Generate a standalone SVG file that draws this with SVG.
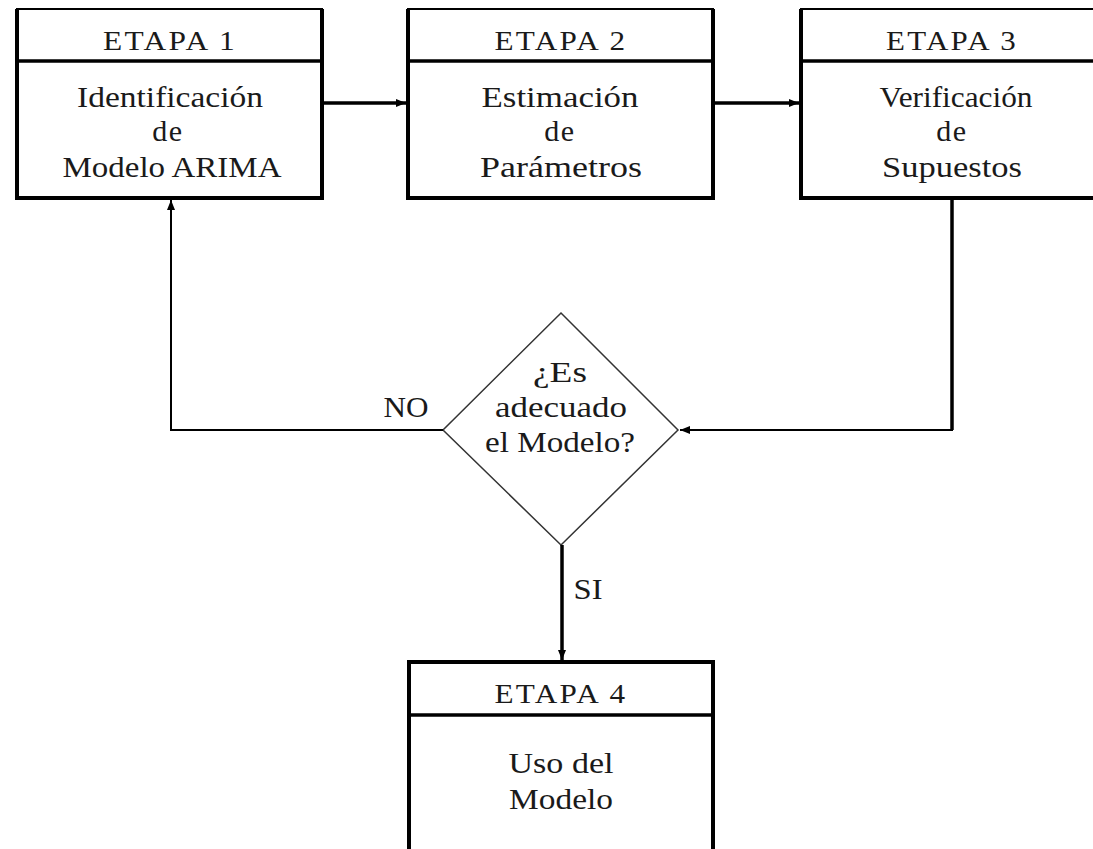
<svg xmlns="http://www.w3.org/2000/svg" width="1093" height="849" viewBox="0 0 1093 849">
<style>
  .t { font-family: "Liberation Serif", "DejaVu Serif", serif; font-size: 29px; fill: #1a1a1a; text-anchor: middle; }
  .d { font-family: "Liberation Serif", "DejaVu Serif", serif; font-size: 30px; fill: #1a1a1a; text-anchor: middle; letter-spacing: 1.5px; }
  .h { font-family: "Liberation Serif", "DejaVu Serif", serif; font-size: 27px; fill: #1a1a1a; text-anchor: middle; letter-spacing: 2px; }
  .frame { fill: none; stroke: #000; stroke-width: 4; }
  .top { stroke: #000; stroke-width: 2.2; }
  .div { stroke: #000; stroke-width: 3.5; }
  .thick { fill: none; stroke: #000; stroke-width: 3.5; }
  .thin { fill: none; stroke: #000; stroke-width: 2; }
</style>
<defs>
  <marker id="ah" viewBox="0 0 10 8" refX="10" refY="4" markerWidth="10" markerHeight="8" markerUnits="userSpaceOnUse" orient="auto">
    <path d="M0,0 L10,4 L0,8 Z" fill="#000"/>
  </marker>
</defs>
<rect width="1093" height="849" fill="#fff"/>

<g id="etapa1">
  <path class="frame" d="M17,9 V198 H322 V9"/>
  <line class="top" x1="16" y1="9" x2="323" y2="9"/>
  <line class="div" x1="16" y1="61" x2="323" y2="61"/>
  <text class="h" x="170" y="50" textLength="134" lengthAdjust="spacingAndGlyphs">ETAPA 1</text>
  <text class="t" x="170" y="107" textLength="186" lengthAdjust="spacingAndGlyphs">Identificación</text>
  <text class="d" x="168" y="141">de</text>
  <text class="t" x="172" y="177" textLength="219" lengthAdjust="spacingAndGlyphs">Modelo ARIMA</text>
</g>

<g id="etapa2">
  <path class="frame" d="M408,9 V198 H713 V9"/>
  <line class="top" x1="407" y1="9" x2="714" y2="9"/>
  <line class="div" x1="407" y1="61" x2="714" y2="61"/>
  <text class="h" x="561" y="50" textLength="133" lengthAdjust="spacingAndGlyphs">ETAPA 2</text>
  <text class="t" x="560" y="107" textLength="157" lengthAdjust="spacingAndGlyphs">Estimación</text>
  <text class="d" x="560" y="141">de</text>
  <text class="t" x="561" y="177" textLength="162" lengthAdjust="spacingAndGlyphs">Parámetros</text>
</g>

<g id="etapa3">
  <path class="frame" d="M801,9 V198 H1110"/>
  <line class="top" x1="800" y1="9" x2="1110" y2="9"/>
  <line class="div" x1="800" y1="61" x2="1110" y2="61"/>
  <text class="h" x="952" y="50" textLength="132" lengthAdjust="spacingAndGlyphs">ETAPA 3</text>
  <text class="t" x="956" y="107" textLength="153" lengthAdjust="spacingAndGlyphs">Verificación</text>
  <text class="d" x="952" y="141">de</text>
  <text class="t" x="952" y="177" textLength="140" lengthAdjust="spacingAndGlyphs">Supuestos</text>
</g>

<g id="decision">
  <polygon points="561,313 678,430 561,545 443,430" fill="#fff" stroke="#333" stroke-width="1.5"/>
  <text class="t" x="560" y="382" textLength="54" lengthAdjust="spacingAndGlyphs">¿Es</text>
  <text class="t" x="561" y="417" textLength="132" lengthAdjust="spacingAndGlyphs">adecuado</text>
  <text class="t" x="560" y="452" textLength="150" lengthAdjust="spacingAndGlyphs">el Modelo?</text>
</g>

<g id="etapa4">
  <path class="frame" d="M409,860 V662 H713 V860"/>
  <line class="div" x1="407" y1="715" x2="714" y2="715"/>
  <text class="h" x="561" y="703" textLength="133" lengthAdjust="spacingAndGlyphs">ETAPA 4</text>
  <text class="t" x="561" y="773" textLength="105" lengthAdjust="spacingAndGlyphs">Uso del</text>
  <text class="t" x="561" y="809" textLength="104" lengthAdjust="spacingAndGlyphs">Modelo</text>
</g>

<g id="connectors">
  <line class="thick" x1="322" y1="103" x2="406" y2="103" marker-end="url(#ah)"/>
  <line class="thick" x1="713" y1="103" x2="799" y2="103" marker-end="url(#ah)"/>
  <path class="thick" d="M952,198 V430"/>
  <path class="thin" d="M953,430 H680" marker-end="url(#ah)"/>
  <path class="thin" d="M443,430 H171 V200" marker-end="url(#ah)"/>
  <line class="thick" x1="562" y1="545" x2="562" y2="660" marker-end="url(#ah)"/>
  <text class="t" x="406" y="417" textLength="45" lengthAdjust="spacingAndGlyphs">NO</text>
  <text class="t" x="588" y="599" textLength="29" lengthAdjust="spacingAndGlyphs">SI</text>
</g>
</svg>
